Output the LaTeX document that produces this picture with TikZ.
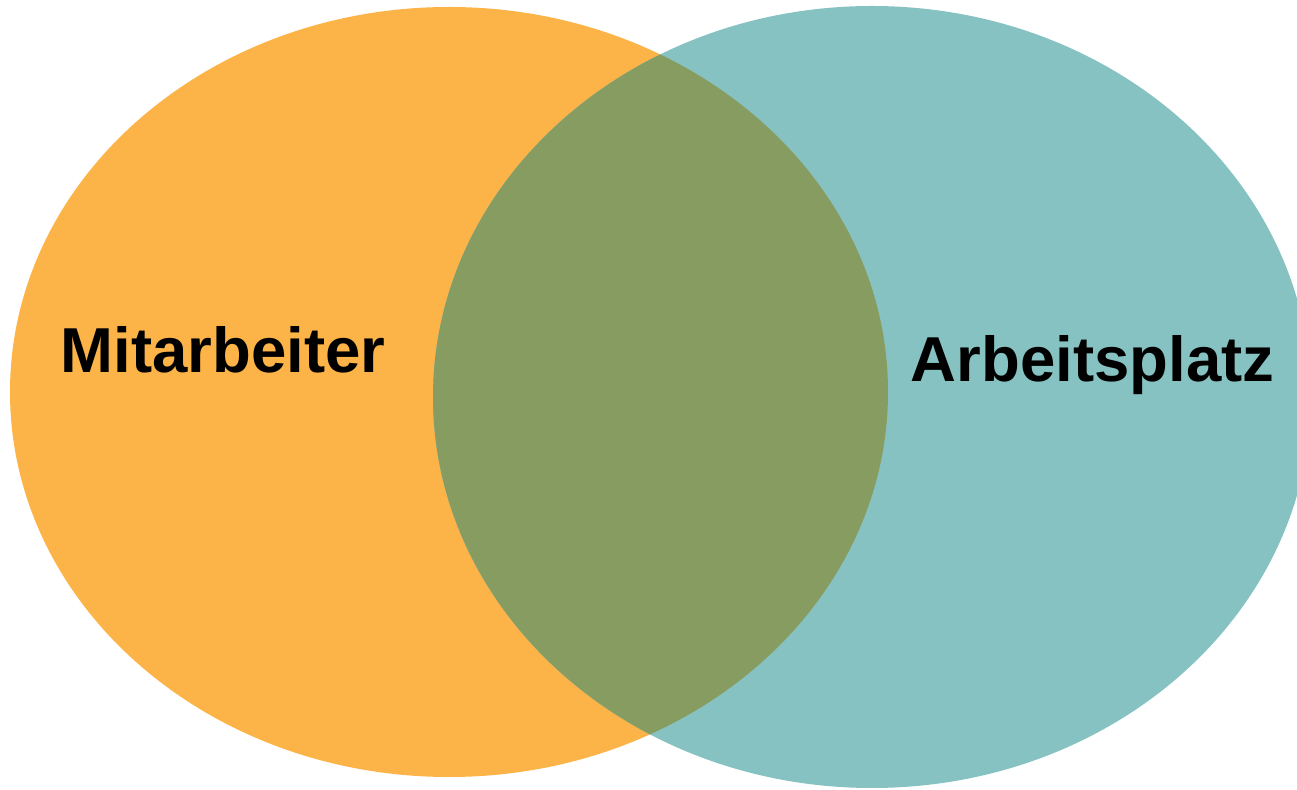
\documentclass[tikz,border=0pt]{standalone}
\usepackage{fontspec}
\setmainfont{Liberation Sans}
\definecolor{orangefill}{RGB}{252,179,71}
\definecolor{tealfill}{RGB}{135,194,194}
\definecolor{olivefill}{RGB}{135,156,97}
\begin{document}
\begin{tikzpicture}[x=1pt,y=1pt,
  label text/.style={font=\fontsize{63.5}{70}\selectfont\bfseries, text=black, inner sep=0pt, anchor=base}]
\useasboundingbox (0,0) rectangle (1297,789);
\clip (0,0) rectangle (1297,789);
\fill[orangefill] (449,397) ellipse [x radius=439, y radius=385];
\fill[tealfill] (872,392) ellipse [x radius=439, y radius=391];
\begin{scope}
  \clip (449,397) ellipse [x radius=439, y radius=385];
  \fill[olivefill] (872,392) ellipse [x radius=439, y radius=391];
\end{scope}
\node[label text] (mit) at (223,416) {Mitarbeiter};
\node[label text] (arb) at (1092.5,407) {Arbeitsplatz};
\end{tikzpicture}
\end{document}
